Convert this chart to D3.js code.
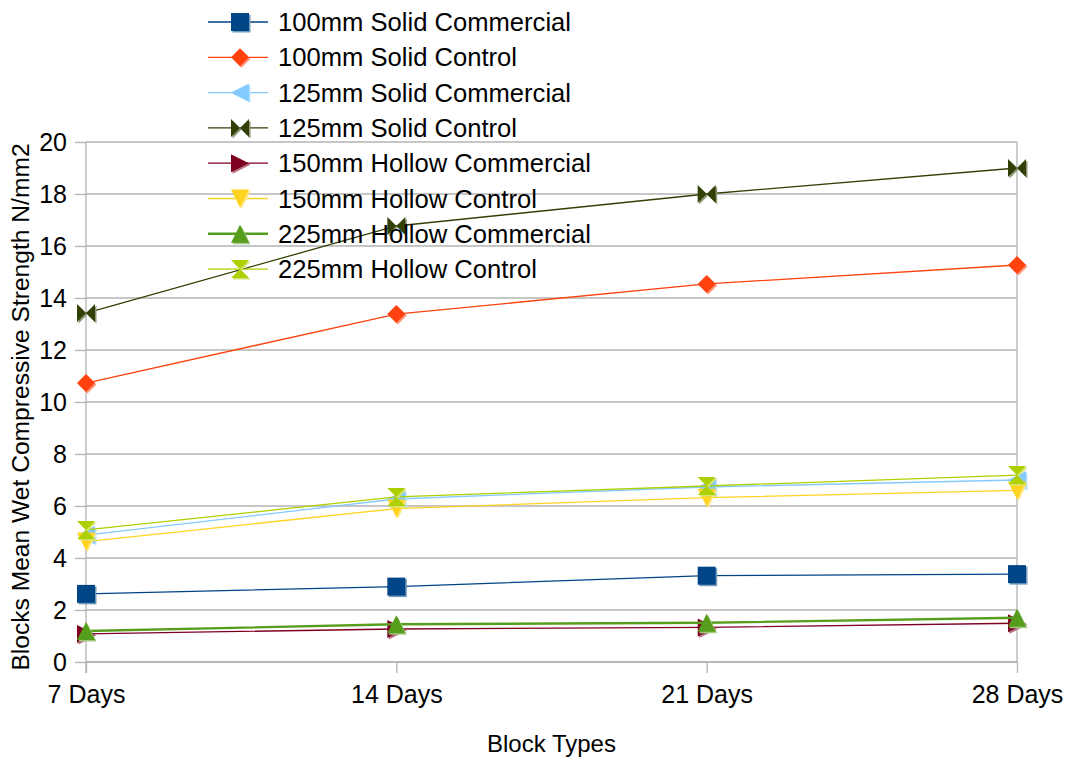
<!DOCTYPE html>
<html>
<head>
<meta charset="utf-8">
<script src="https://cdn.jsdelivr.net/npm/d3@7"></script>
<style>
  html, body { margin: 0; padding: 0; background: #ffffff; }
  svg { display: block; font-family: "Liberation Sans", Arial, sans-serif; }
</style>
</head>
<body>
<svg id="chart" width="1066" height="758"></svg>
<script>
// Curing ages on the category axis
const categories = ["7 Days", "14 Days", "21 Days", "28 Days"];

// Mean wet compressive strength (N/mm2) per block type
const solid100Commercial = [2.62, 2.90, 3.32, 3.38];
const solid100Control    = [10.73, 13.38, 14.54, 15.27];
const solid125Commercial = [4.88, 6.27, 6.73, 7.00];
const solid125Control    = [13.42, 16.77, 18.00, 19.00];
const hollow150Commercial = [1.08, 1.27, 1.33, 1.49];
const hollow150Control   = [4.63, 5.90, 6.32, 6.60];
const hollow225Commercial = [1.19, 1.45, 1.51, 1.70];
const hollow225Control   = [5.08, 6.35, 6.77, 7.19];

const seriesNames = [
  "100mm Solid Commercial", "100mm Solid Control",
  "125mm Solid Commercial", "125mm Solid Control",
  "150mm Hollow Commercial", "150mm Hollow Control",
  "225mm Hollow Commercial", "225mm Hollow Control"
];
const seriesValues = [
  solid100Commercial, solid100Control,
  solid125Commercial, solid125Control,
  hollow150Commercial, hollow150Control,
  hollow225Commercial, hollow225Control
];
const yTicks = [0, 2, 4, 6, 8, 10, 12, 14, 16, 18, 20];

const colors = ["#004586", "#ff420e", "#83caff", "#314004", "#7e0021", "#ffd320", "#579d1c", "#aecf00"];
const shapes = ["square", "diamond", "triLeft", "bowtie", "triRight", "triDown", "triUp", "hourglass"];
const widths = [1.3, 1.3, 1.3, 1.3, 1.3, 1.3, 2.4, 1.3];

const svg = d3.select("#chart");
const plotLeft = 86, plotRight = 1017, plotTop = 142, plotBottom = 662;

const x = d3.scalePoint().domain(categories).range([plotLeft, plotRight]);
const y = d3.scaleLinear().domain([0, 20]).range([plotBottom, plotTop]);

const gridColor = "#b3b3b3";

// Horizontal gridlines
svg.append("g").selectAll("line").data(yTicks).join("line")
  .attr("x1", plotLeft).attr("x2", plotRight)
  .attr("y1", d => y(d)).attr("y2", d => y(d))
  .attr("stroke", gridColor).attr("stroke-width", 1.3);

// Right edge of the plot area
svg.append("line")
  .attr("x1", plotRight).attr("x2", plotRight).attr("y1", plotTop).attr("y2", plotBottom)
  .attr("stroke", gridColor).attr("stroke-width", 1.3);

// Y axis
const yAxis = svg.append("g").attr("transform", `translate(${plotLeft},0)`)
  .call(d3.axisLeft(y).tickValues(yTicks).tickSize(11).tickPadding(8));
yAxis.select(".domain").attr("stroke", gridColor).attr("stroke-width", 1.3)
  .attr("d", `M0,${plotTop}V${plotBottom + 11}`);
yAxis.selectAll(".tick line").attr("stroke", gridColor).attr("stroke-width", 1.3);
yAxis.selectAll(".tick text").attr("font-size", 25).attr("fill", "#000")
  .attr("font-family", "Liberation Sans, Arial, sans-serif");

// X axis
const xAxis = svg.append("g").attr("transform", `translate(0,${plotBottom})`)
  .call(d3.axisBottom(x).tickSize(11).tickPadding(12));
xAxis.select(".domain").attr("stroke", gridColor).attr("stroke-width", 1.3)
  .attr("d", `M${plotLeft},0H${plotRight}`);
xAxis.selectAll(".tick line").attr("stroke", gridColor).attr("stroke-width", 1.3);
xAxis.selectAll(".tick text").attr("font-size", 25).attr("fill", "#000")
  .attr("font-family", "Liberation Sans, Arial, sans-serif");

// Axis titles
svg.append("text")
  .attr("x", (plotLeft + plotRight) / 2).attr("y", 752)
  .attr("text-anchor", "middle").attr("font-size", 24).attr("fill", "#000")
  .text("Block Types");
svg.append("text")
  .attr("transform", `translate(29,${(plotTop + plotBottom) / 2 + 5}) rotate(-90)`)
  .attr("text-anchor", "middle").attr("font-size", 24.6).attr("fill", "#000")
  .text("Blocks Mean Wet Compressive Strength N/mm2");

// Marker outlines, centred on the origin
function markerPath(shape, s) {
  const h = s / 2;
  switch (shape) {
    case "square": return `M${-h},${-h}H${h}V${h}H${-h}Z`;
    case "diamond": return `M0,${-h}L${h},0L0,${h}L${-h},0Z`;
    case "triLeft": return `M${-h},0L${h},${-h}L${h},${h}Z`;
    case "triRight": return `M${h},0L${-h},${-h}L${-h},${h}Z`;
    case "triDown": return `M${-h},${-h}L${h},${-h}L0,${h}Z`;
    case "triUp": return `M0,${-h}L${h},${h}L${-h},${h}Z`;
    case "bowtie": return `M${-h},${-h}L0,0L${-h},${h}ZM${h},${-h}L0,0L${h},${h}Z`;
    case "hourglass": return `M${-h},${-h}L${h},${-h}L0,0ZM${-h},${h}L${h},${h}L0,0Z`;
  }
}

function drawMarker(g, shape, color, cx, cy, s) {
  const lighter = d3.interpolateRgb(color, "#ffffff")(0.45);
  g.append("path").attr("d", markerPath(shape, s))
    .attr("transform", `translate(${cx + 1.5},${cy + 1.5})`)
    .attr("fill", lighter);
  g.append("path").attr("d", markerPath(shape, s))
    .attr("transform", `translate(${cx},${cy})`)
    .attr("fill", color);
}

const line = d3.line().x((d, i) => x(categories[i])).y(d => y(d));
const markerSize = 18;

// Series lines and markers
seriesValues.forEach((vals, k) => {
  const g = svg.append("g");
  g.append("path").datum(vals).attr("d", line)
    .attr("fill", "none").attr("stroke", colors[k]).attr("stroke-width", widths[k]);
  vals.forEach((v, i) => drawMarker(g, shapes[k], colors[k], x(categories[i]), y(v), markerSize));
});

// Legend
const legend = svg.append("g");
seriesNames.forEach((name, k) => {
  const cy = 22 + k * 35.3;
  legend.append("line")
    .attr("x1", 208).attr("x2", 268).attr("y1", cy).attr("y2", cy)
    .attr("stroke", colors[k]).attr("stroke-width", widths[k]);
  drawMarker(legend, shapes[k], colors[k], 240, cy, markerSize);
  legend.append("text")
    .attr("x", 278).attr("y", cy + 9)
    .attr("font-size", 25.6).attr("fill", "#000")
    .text(name);
});
</script>
</body>
</html>
